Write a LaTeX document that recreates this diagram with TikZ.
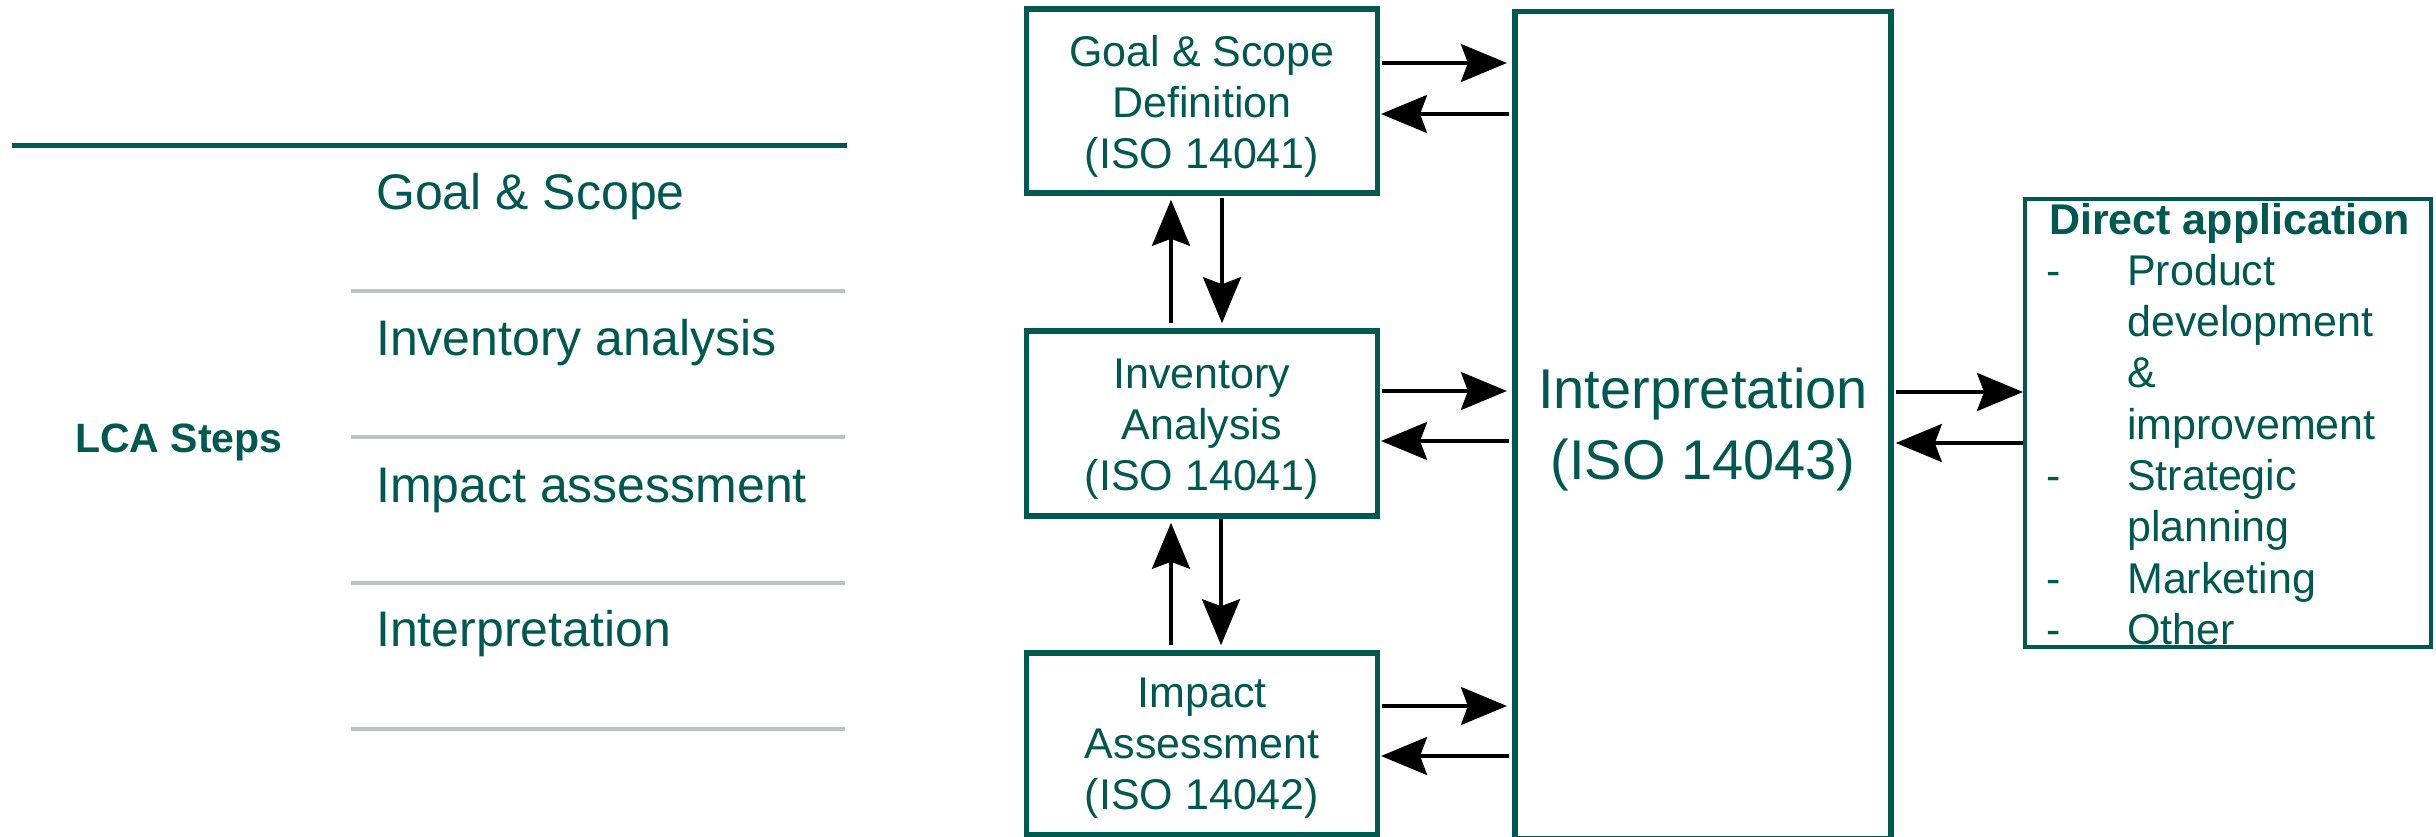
\documentclass[tikz,border=0pt]{standalone}
\usepackage{fontspec}
\setmainfont{Liberation Sans}
\usetikzlibrary{arrows.meta}
\definecolor{lcateal}{RGB}{0,89,80}
\definecolor{rulegray}{RGB}{190,195,194}

\begin{document}
\begin{tikzpicture}[x=1pt,y=-1pt,
  stagebox/.style={draw=lcateal, line width=5.2pt, minimum width=351.5pt,
    inner sep=0pt},
  stagetext/.style={align=center, text=lcateal, inner sep=0pt,
    font=\fontsize{43}{51}\selectfont},
  flow/.style={line width=3.6pt, -{Stealth[length=46pt,width=38pt,inset=7pt]}},
  steplabel/.style={anchor=base west, text=lcateal, inner sep=0pt,
    font=\fontsize{50}{60}\selectfont},
  appline/.style={anchor=base west, text=lcateal, inner sep=0pt,
    font=\fontsize{43}{51}\selectfont},
]
\useasboundingbox (0,0) rectangle (2436,837);
\clip (0,0) rectangle (2436,837);

% --- left column: list of LCA steps ---
\draw[lcateal, line width=5pt] (12,146) -- (847,146);
\foreach \yy in {290.5,436.6,582.6,728.6}
  \draw[rulegray, line width=4pt] (351,\yy) -- (845,\yy);
\node[steplabel] (lgoal) at (376,210) {Goal \& Scope};
\node[steplabel] (linv)  at (376,355) {Inventory analysis};
\node[steplabel] (limp)  at (376,502) {Impact assessment};
\node[steplabel] (lint)  at (376,646) {Interpretation};
\node[anchor=base west, text=lcateal, inner sep=0pt,
  font=\fontsize{41}{49}\selectfont\bfseries] (lcasteps) at (75,452) {LCA Steps};

% --- framework boxes ---
\node[stagebox, minimum height=184pt]   (goal) at (1202,101)    {};
\node[stagebox, minimum height=185pt]   (inv)  at (1202,423.5)  {};
\node[stagebox, minimum height=181.5pt] (imp)  at (1202,743.75) {};
\node[stagebox, minimum width=376pt, minimum height=826.5pt] (interp) at (1703,425) {};
\node[stagetext] (goaltext) at (1202,106) {Goal \& Scope\\Definition\\(ISO 14041)};
\node[stagetext] (invtext)  at (1202,429) {Inventory\\Analysis\\(ISO 14041)};
\node[stagetext] (imptext)  at (1202,748) {Impact\\Assessment\\(ISO 14042)};
\node[stagetext, font=\fontsize{56}{71}\selectfont] (interptext) at (1703,430)
  {Interpretation\\(ISO 14043)};

% --- direct applications ---
\node[draw=lcateal, line width=4pt, minimum width=406pt, minimum height=448pt,
  inner sep=0pt] (app) at (2228,423) {};
\node[appline, font=\fontsize{43}{51}\selectfont\bfseries] (apptitle) at (2049,235) {Direct application};
\node[appline] (d1) at (2046,285) {-};
\node[appline] (d2) at (2046,490) {-};
\node[appline] (d3) at (2046,593) {-};
\node[appline] (d4) at (2046,644) {-};
\node[appline] (a1) at (2127,285)   {Product};
\node[appline] (a2) at (2127,336)   {development};
\node[appline] (a3) at (2127,387.5) {\&};
\node[appline] (a4) at (2127,439)   {improvement};
\node[appline] (a5) at (2127,490)   {Strategic};
\node[appline] (a6) at (2127,541.5) {planning};
\node[appline] (a7) at (2127,593)   {Marketing};
\node[appline] (a8) at (2127,644)   {Other};

% --- horizontal flows to and from interpretation ---
\draw[flow, shorten <=1.5pt, shorten >=5.5pt]   (goal.east |- 0,63)    -- (interp.west |- 0,63);
\draw[flow, shorten <=3.2pt, shorten >=0.7pt] (interp.west |- 0,114) -- (goal.east |- 0,114);
\draw[flow, shorten <=1.5pt, shorten >=5.5pt]   (inv.east |- 0,391)    -- (interp.west |- 0,391);
\draw[flow, shorten <=3.2pt, shorten >=0.7pt] (interp.west |- 0,441) -- (inv.east |- 0,441);
\draw[flow, shorten <=1.5pt, shorten >=5.5pt]   (imp.east |- 0,706)    -- (interp.west |- 0,706);
\draw[flow, shorten <=3.2pt, shorten >=0.7pt] (interp.west |- 0,756) -- (imp.east |- 0,756);
\draw[flow, shorten <=2.2pt, shorten >=0pt]   (interp.east |- 0,392) -- (app.west |- 0,392);
\draw[flow, shorten <=0pt, shorten >=2.2pt]   (app.west |- 0,443)    -- (interp.east |- 0,443);

% --- vertical flows between stages ---
\draw[flow, shorten <=5.2pt, shorten >=4.2pt] (inv.north -| 1171,0)  -- (goal.south -| 1171,0);
\draw[flow, shorten <=2.2pt, shorten >=5.2pt] (goal.south -| 1222,0) -- (inv.north -| 1222,0);
\draw[flow, shorten <=5.2pt, shorten >=4.2pt] (imp.north -| 1171,0)  -- (inv.south -| 1171,0);
\draw[flow, shorten <=0.5pt, shorten >=5.2pt] (inv.south -| 1221,0)  -- (imp.north -| 1221,0);
\end{tikzpicture}
\end{document}
